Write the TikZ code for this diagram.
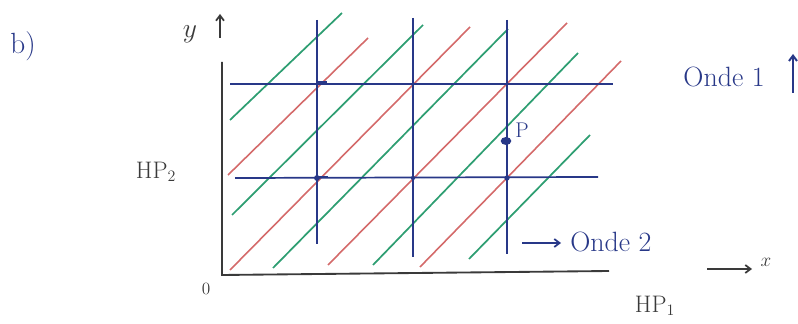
\documentclass[tikz,border=0pt]{standalone}
\usepackage{tikz}
\usetikzlibrary{arrows.meta,shapes.geometric}
\definecolor{ink}{HTML}{283888}
\definecolor{grn}{HTML}{2E9E72}
\definecolor{rd}{HTML}{D46A6A}
\definecolor{axc}{HTML}{3A3A3A}
\tikzset{
  grid/.style={ink, line width=1.3pt},
  wgreen/.style={grn, line width=1.3pt},
  wred/.style={rd, line width=1.2pt},
  axis/.style={axc, line width=1.4pt},
  hand/.style={ink, font=\fontsize{21}{24}\selectfont, inner sep=0pt},
  handk/.style={axc, font=\fontsize{18}{22}\selectfont, inner sep=0pt},
  tip/.style={-{Straight Barb[length=4pt,width=6pt]}},
}
\begin{document}
\begin{tikzpicture}[x=0.26458mm, y=-0.26458mm]
\useasboundingbox (0,0) rectangle (798,324);
% axes
\coordinate (O) at (222,275);
\coordinate (ytop) at (222,62);
\coordinate (xend) at (609,271);
\draw[axis] (ytop) -- (O) -- (xend);
% wave lines (diagonals)
\draw[wgreen] (230,120) -- (342,13);
\draw[wred]   (228,175) -- (368,38);
\draw[wgreen] (232,215) -- (423,25);
\draw[wred]   (230,270) -- (470,27);
\draw[wgreen] (273,268) -- (508,29);
\draw[wred]   (328,265) -- (567,23);
\draw[wgreen] (373,265) -- (578,53);
\draw[wred]   (420,267) -- (621,61);
\draw[wgreen] (469,259) -- (590,135);
% blue grid
\draw[grid] (230,84) -- (613,84);
\draw[grid] (235,178) -- (598,177);
\draw[grid] (317,20) -- (317,244);
\draw[grid] (413,18) -- (413,257);
\draw[grid] (507,20) -- (507,254);
% intersection marks
\fill[ink] (317,178) circle (2.2pt);
\fill[ink] (413,178) circle (1.6pt);
\fill[ink] (507,178) circle (2pt);
\fill[ink] (317,84) circle (1.4pt);
\draw[ink, line width=1.6pt] (317,82.5) -- (327,82.5);
\draw[ink, line width=1.6pt] (317,177) -- (328,177);
% point P
\node[fill=ink, ellipse, minimum width=8pt, minimum height=6pt, inner sep=0pt] (P) at (506,141) {};
\node[hand, font=\fontsize{16}{18}\selectfont] (Plab) at (522,130) {P};
% labels
\node[hand, font=\fontsize{22}{24}\selectfont] (b) at (23,46) {b)};
\node[handk, font=\fontsize{20}{24}\selectfont] (ylab) at (190,34) {$y$};
\coordinate (ya) at (220,38);
\coordinate (yb) at (220,14);
\draw[axc, line width=1.3pt, tip] (ya) -- (yb);
\node[handk] (HP2) at (156,172) {HP$_2$};
\node[handk, font=\fontsize{13}{15}\selectfont] (zero) at (206,289) {0};
\node[handk] (HP1) at (655,306) {HP$_1$};
\coordinate (xa) at (707,269);
\coordinate (xb) at (752,269);
\draw[axc, line width=1.3pt, tip] (xa) -- (xb);
\node[handk, font=\fontsize{15}{17}\selectfont] (xlab) at (766,262) {$x$};
\node[hand] (onde1) at (724,77) {Onde 1};
\coordinate (o1a) at (793,93);
\coordinate (o1b) at (793,54);
\draw[ink, line width=1.5pt, tip] (o1a) -- (o1b);
\coordinate (o2a) at (522,243);
\coordinate (o2b) at (561,243);
\draw[ink, line width=1.3pt, tip] (o2a) -- (o2b);
\node[hand, anchor=west] (onde2) at (570,242) {Onde 2};
\end{tikzpicture}
\end{document}
